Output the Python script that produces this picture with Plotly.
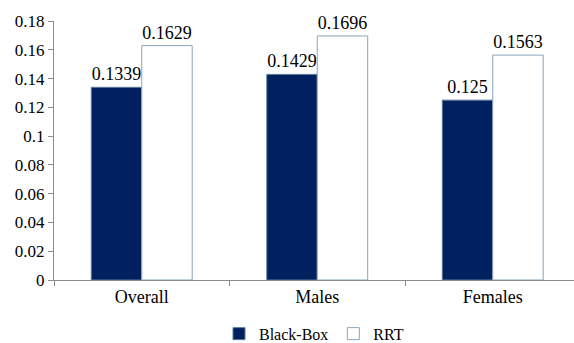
import plotly.graph_objects as go

categories = ["Overall", "Males", "Females"]
black_box = [0.1339, 0.1429, 0.125]
rrt = [0.1629, 0.1696, 0.1563]
y_ticks = [0, 0.02, 0.04, 0.06, 0.08, 0.1, 0.12, 0.14, 0.16, 0.18]

font_family = "Liberation Serif"

fig = go.Figure()
fig.add_trace(go.Bar(
    name="Black-Box", x=categories, y=black_box,
    text=[str(v) for v in black_box], textposition="outside",
    textfont=dict(size=18, color="black", family=font_family),
    marker=dict(color="#002060", line=dict(color="#5a7a9a", width=1)),
    cliponaxis=False,
))
fig.add_trace(go.Bar(
    name="RRT", x=categories, y=rrt,
    text=[str(v) for v in rrt], textposition="outside",
    textfont=dict(size=18, color="black", family=font_family),
    marker=dict(color="white", line=dict(color="#8aa4bc", width=1)),
    cliponaxis=False,
))

fig.update_layout(
    width=574, height=343,
    margin=dict(l=54, r=0, t=21, b=63),
    paper_bgcolor="white", plot_bgcolor="white",
    barmode="group", bargap=0.425, bargroupgap=0,
    font=dict(family=font_family, size=17, color="black"),
    showlegend=True,
    legend=dict(orientation="h", x=0.5, xanchor="center",
                yref="container", y=0.027, yanchor="middle",
                font=dict(size=16, family=font_family),
                itemwidth=30, tracegroupgap=0),
    xaxis=dict(range=[-0.5, 2.463],
               showline=True, linecolor="#8c8c8c", linewidth=1,
               ticks="outside", tickson="boundaries", ticklen=5, tickcolor="#8c8c8c",
               tickfont=dict(size=18, family=font_family)),
    yaxis=dict(range=[0, 0.18], tickvals=y_ticks,
               ticktext=[("%g" % v) for v in y_ticks],
               showline=True, linecolor="#8c8c8c", linewidth=1,
               ticks="outside", ticklen=5, tickcolor="#8c8c8c",
               showgrid=False, zeroline=False, tickfont=dict(size=17, family=font_family)),
)

fig.write_html("out.html")
